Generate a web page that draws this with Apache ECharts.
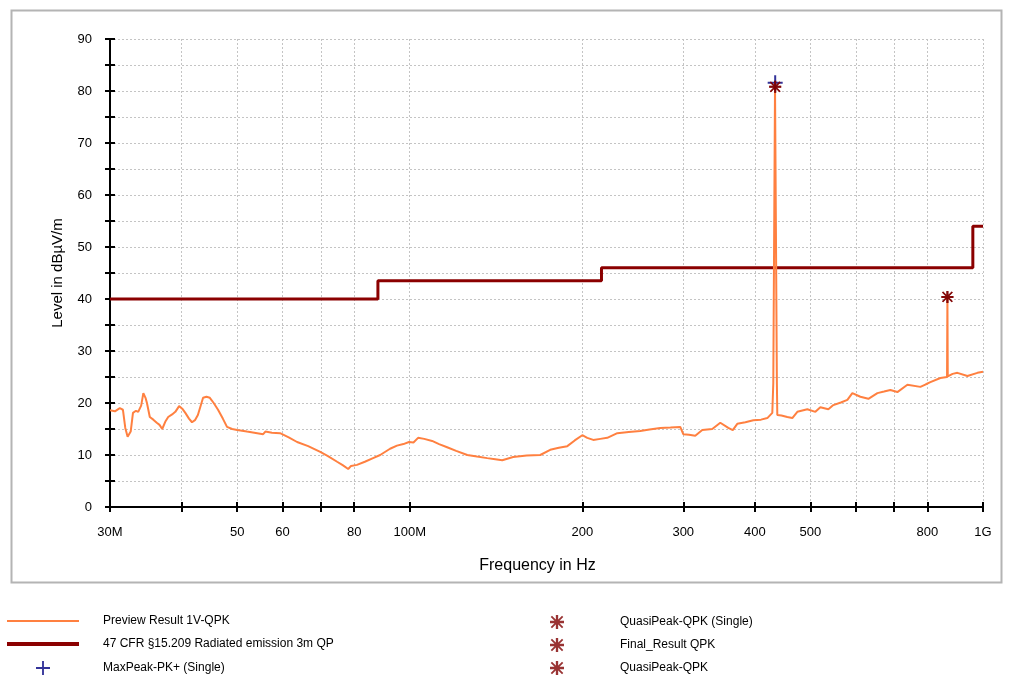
<!DOCTYPE html>
<html>
<head>
<meta charset="utf-8">
<script src="https://cdn.jsdelivr.net/npm/echarts@6/dist/echarts.min.js"></script>
<style>
html,body{margin:0;padding:0;background:#fff;}
#chart{width:1009px;height:676px;}
</style>
</head>
<body>
<div id="chart"></div>
<script>
// Preview trace (frequency in MHz, level in dBµV/m)
var previewFreq = [30.0,30.6,31.2,31.6,31.9,32.2,32.6,32.9,33.3,33.6,34.0,34.3,34.6,34.8,35.2,35.7,36.2,36.6,37.0,37.5,37.9,38.5,39.0,39.6,40.1,40.6,41.2,41.7,42.2,42.7,43.6,44.2,44.8,45.5,46.3,47.2,48.0,49.0,50.0,52.0,54.2,55.5,56.0,57.5,59.4,61.5,63.6,66.5,69.8,72.0,74.7,76.5,78.1,79.0,80.9,83.5,86.3,88.8,92.4,95.0,97.5,99.7,101.5,103.4,106.0,109.4,112.5,116.2,120.5,126.0,131.0,136.5,141.0,145.0,151.5,160.0,168.9,175.8,182.0,188.3,194.0,200.0,204.0,209.0,215.0,221.1,230.2,241.0,252.4,262.0,273.5,285.0,296.4,300.0,307.0,314.8,323.8,337.1,348.1,359.5,366.0,372.7,385.0,397.5,410.0,420.5,429.0,430.7,433.7,434.3,437.0,437.7,445.0,455.6,464.9,474.4,493.8,510.0,520.3,537.3,548.2,565.0,580.0,591.7,611.1,631.0,654.3,672.0,689.3,709.0,738.1,777.6,795.0,809.5,842.7,865.5,866.8,868.0,885.0,902.4,939.4,977.9,1000.0];
var previewLevel = [18.6,18.4,19.0,18.7,15.2,13.5,14.5,18.1,18.5,18.3,19.5,21.9,21.0,20.0,17.3,16.8,16.2,15.8,15.0,16.5,17.3,17.8,18.3,19.4,18.9,18.1,17.0,16.3,16.7,17.7,21.0,21.2,21.0,20.0,18.7,17.0,15.4,15.0,14.8,14.5,14.2,14.0,14.5,14.3,14.2,13.4,12.5,11.7,10.6,9.8,8.7,8.0,7.3,7.9,8.1,8.7,9.4,10.0,11.2,11.8,12.1,12.5,12.4,13.3,13.1,12.7,12.1,11.5,10.8,10.0,9.7,9.4,9.2,9.0,9.6,9.9,10.0,11.0,11.4,11.7,12.8,13.8,13.3,12.9,13.1,13.3,14.2,14.4,14.6,14.9,15.2,15.3,15.4,14.0,13.9,13.7,14.8,15.0,16.2,15.2,14.8,16.0,16.3,16.7,16.8,17.1,18.1,23.8,80.8,80.8,23.6,17.7,17.6,17.3,17.1,18.3,18.8,18.3,19.2,18.8,19.6,20.1,20.6,21.9,21.2,20.8,21.9,22.2,22.5,22.1,23.5,23.1,23.6,24.0,24.8,25.0,40.4,25.1,25.6,25.8,25.2,25.8,26.0];

// Limit line 47 CFR §15.209 (step)
var limitFreq = [30, 88, 88, 216, 216, 960, 960, 1000];
var limitLevel = [40, 40, 43.5, 43.5, 46, 46, 54, 54];

// Markers
var maxPeakFreq = [434.0];
var maxPeakLevel = [81.6];
var qpSingleFreq = [434.0];
var qpSingleLevel = [80.8];
var finalFreq = [434.0, 866.8];
var finalLevel = [80.8, 40.4];
var qpFreq = [866.8];
var qpLevel = [40.4];

// Axis ticks / labels (MHz)
var xTickValues = [30, 40, 50, 60, 70, 80, 100, 200, 300, 400, 500, 600, 700, 800, 1000];
var xLabelValues = [30, 50, 60, 80, 100, 200, 300, 400, 500, 800, 1000];
var xLabelText = {30: '30M', 50: '50', 60: '60', 80: '80', 100: '100M', 200: '200', 300: '300', 400: '400', 500: '500', 800: '800', 1000: '1G'};

function pairs(a, b) { return a.map(function (v, i) { return [v, b[i]]; }); }

var ASTER = 'path://M0,5 L12,5 L12,7 L0,7 Z M5,0 L7,0 L7,12 L5,12 Z M1.7,0.6 L11.4,10.3 L10.3,11.4 L0.6,1.7 Z M10.3,0.6 L11.4,1.7 L1.7,11.4 L0.6,10.3 Z';
var PLUS = 'path://M6.5,0 L8.5,0 L8.5,15 L6.5,15 Z M0,6.5 L15,6.5 L15,8.5 L0,8.5 Z';
var LINE_THIN = 'path://M0,0 L72,0 L72,2 L0,2 Z';
var LINE_THICK = 'path://M0,0 L72,0 L72,4 L0,4 Z';

var FONT = 'Liberation Sans';
var chart = echarts.init(document.getElementById('chart'), null, {renderer: 'canvas'});

function legendItem(name, icon, left, top, w, pad) {
  return {
    left: left, top: top, orient: 'horizontal',
    itemWidth: w, itemHeight: 14, itemGap: 0, padding: 0,
    selectedMode: false,
    textStyle: {fontFamily: FONT, fontSize: 12, color: '#000', padding: [0, 0, 0, pad]},
    data: [{name: name, icon: icon}]
  };
}

var option = {
  backgroundColor: '#ffffff',
  animation: false,
  graphic: [{
    type: 'rect', left: 9, top: 8, z: -10,
    shape: {width: 990, height: 572},
    style: {fill: 'none', stroke: '#b4b4b4', lineWidth: 2}
  }],
  grid: {left: 110, right: 26, top: 39, bottom: 169, containLabel: false},
  xAxis: [{
    type: 'log', logBase: 10, min: 30, max: 1000,
    position: 'bottom',
    name: 'Frequency in Hz', nameLocation: 'middle', nameGap: 51,
    nameTextStyle: {fontFamily: FONT, fontSize: 16, color: '#000', padding: [0, 18, 0, 0]},
    axisLine: {show: true, lineStyle: {color: '#000', width: 2}},
    axisTick: {show: true, inside: false, length: 5, lineStyle: {color: '#000', width: 2}, customValues: xTickValues},
    axisLabel: {show: true, margin: 19, fontFamily: FONT, fontSize: 13, color: '#000', customValues: xLabelValues,
      formatter: function (v) { var k = Math.round(v); return xLabelText[k] !== undefined ? xLabelText[k] : ''; }},
    splitLine: {show: true, lineStyle: {color: '#c4c4c4', type: [2, 2], width: 1}},
    minorTick: {show: false}
  }, {
    type: 'log', logBase: 10, min: 30, max: 1000,
    position: 'bottom',
    axisLine: {show: false},
    axisTick: {show: true, inside: true, length: 5, lineStyle: {color: '#000', width: 2}, customValues: xTickValues},
    axisLabel: {show: false},
    splitLine: {show: false}
  }],
  yAxis: [{
    type: 'value', min: 0, max: 90, interval: 5,
    position: 'left',
    name: 'Level in dBµV/m', nameLocation: 'middle', nameGap: 45,
    nameTextStyle: {fontFamily: FONT, fontSize: 15, color: '#000'},
    axisLine: {show: true, lineStyle: {color: '#000', width: 2}},
    axisTick: {show: true, inside: false, length: 5, lineStyle: {color: '#000', width: 2}},
    axisLabel: {margin: 18, fontFamily: FONT, fontSize: 13, color: '#000',
      formatter: function (v) { return v % 10 === 0 ? String(v) : ''; }},
    splitLine: {show: true, lineStyle: {color: '#c4c4c4', type: [2, 2], width: 1}}
  }, {
    type: 'value', min: 0, max: 90, interval: 5,
    position: 'left',
    axisLine: {show: false},
    axisTick: {show: true, inside: true, length: 5, lineStyle: {color: '#000', width: 2}},
    axisLabel: {show: false},
    splitLine: {show: false}
  }],
  legend: [
    legendItem('Preview Result 1V-QPK', LINE_THIN, 7, 615, 72, 19),
    legendItem('47 CFR §15.209 Radiated emission 3m QP', LINE_THICK, 7, 638, 72, 19),
    legendItem('MaxPeak-PK+ (Single)', PLUS, 36, 661, 14, 48),
    legendItem('QuasiPeak-QPK (Single)', ASTER, 550, 615, 14, 51),
    legendItem('Final_Result QPK', ASTER, 550, 638, 14, 51),
    legendItem('QuasiPeak-QPK', ASTER, 550, 661, 14, 51)
  ],
  series: [{
    name: 'Preview Result 1V-QPK', type: 'line',
    data: pairs(previewFreq, previewLevel),
    showSymbol: false, symbol: 'none',
    lineStyle: {color: '#ff8040', width: 2},
    itemStyle: {color: '#ff8040'},
    z: 3
  }, {
    name: '47 CFR §15.209 Radiated emission 3m QP', type: 'line',
    data: pairs(limitFreq, limitLevel),
    showSymbol: false, symbol: 'none',
    lineStyle: {color: '#8b0000', width: 3},
    itemStyle: {color: '#8b0000'},
    z: 2
  }, {
    name: 'MaxPeak-PK+ (Single)', type: 'scatter',
    data: pairs(maxPeakFreq, maxPeakLevel),
    symbol: PLUS, symbolSize: 15,
    itemStyle: {color: '#000080'},
    z: 5
  }, {
    name: 'QuasiPeak-QPK (Single)', type: 'scatter',
    data: pairs(qpSingleFreq, qpSingleLevel),
    symbol: ASTER, symbolSize: 12,
    itemStyle: {color: '#800000'},
    z: 6
  }, {
    name: 'Final_Result QPK', type: 'scatter',
    data: pairs(finalFreq, finalLevel),
    symbol: ASTER, symbolSize: 12,
    itemStyle: {color: '#800000'},
    z: 6
  }, {
    name: 'QuasiPeak-QPK', type: 'scatter',
    data: pairs(qpFreq, qpLevel),
    symbol: ASTER, symbolSize: 12,
    itemStyle: {color: '#800000'},
    z: 6
  }]
};
chart.setOption(option);
</script>
</body>
</html>
